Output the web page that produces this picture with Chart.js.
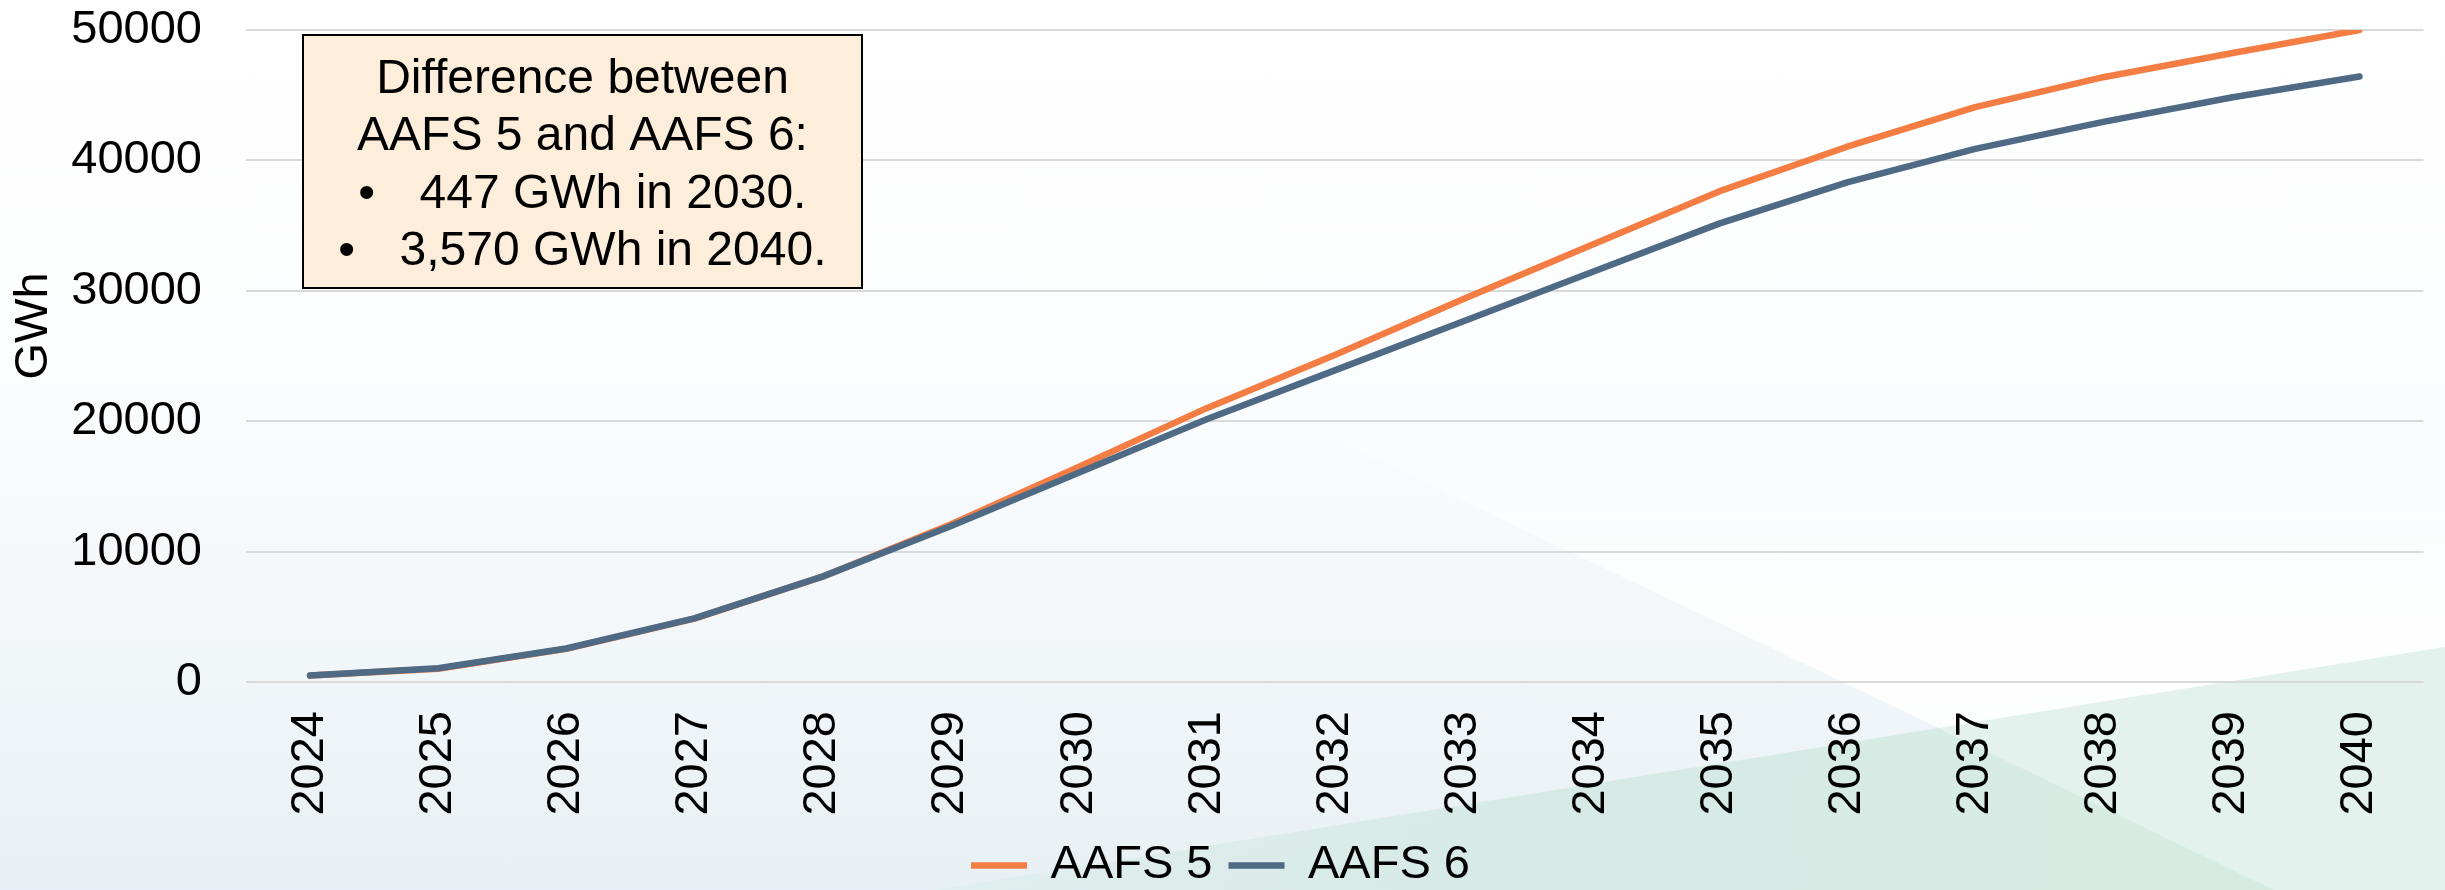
<!DOCTYPE html>
<html><head><meta charset="utf-8">
<script src="https://cdn.jsdelivr.net/npm/chart.js@4.4.0/dist/chart.umd.min.js"></script>
<style>
html,body{margin:0;padding:0;width:2445px;height:890px;overflow:hidden;background:#fff;}
#bg{position:absolute;left:0;top:0;}
#wrap{position:absolute;left:0;top:0;width:2445px;height:890px;overflow:hidden;}
canvas{display:block;}
</style></head><body>
<svg id="bg" width="2445" height="890" xmlns="http://www.w3.org/2000/svg">
 <defs>
  <linearGradient id="base" x1="0" y1="0" x2="0" y2="1">
   <stop offset="0" stop-color="#ffffff"/>
   <stop offset="0.4" stop-color="#fcfdfe"/>
   <stop offset="0.75" stop-color="#f1f6f9"/>
   <stop offset="1" stop-color="#e7f0f4"/>
  </linearGradient>
  <linearGradient id="wfade" gradientUnits="userSpaceOnUse" x1="0" y1="380" x2="0" y2="620">
   <stop offset="0" stop-color="#ffffff" stop-opacity="0"/>
   <stop offset="1" stop-color="#ffffff" stop-opacity="0.9"/>
  </linearGradient>
  <linearGradient id="g1" gradientUnits="userSpaceOnUse" x1="935" y1="0" x2="2100" y2="0">
   <stop offset="0" stop-color="#d3e9e4" stop-opacity="0.3"/>
   <stop offset="0.5" stop-color="#d3e9e4" stop-opacity="0.9"/>
   <stop offset="1" stop-color="#d6ece3" stop-opacity="1"/>
  </linearGradient>
 </defs>
 <rect width="2445" height="890" fill="url(#base)"/>
 <polygon points="1210,380 2445,380 2445,647 1939,728" fill="url(#wfade)"/>
 <polygon points="935,890 1939,728 2274,890" fill="url(#g1)"/>
 <polygon points="1939,728 2445,647 2445,890 2274,890" fill="#e3f2ec"/>
</svg>
<div id="wrap"><canvas id="c" width="2445" height="899"></canvas></div>
<script>
const years = ['2024','2025','2026','2027','2028','2029','2030','2031','2032','2033','2034','2035','2036','2037','2038','2039','2040'];
const aafs5 = [490, 1020, 2540, 4860, 8080, 12080, 16500, 21000, 25070, 29350, 33500, 37620, 41050, 44080, 46380, 48220, 50000];
const aafs6 = [490, 1050, 2570, 4880, 8080, 11950, 16053, 20150, 23900, 27650, 31400, 35150, 38320, 40880, 42950, 44820, 46430];
const yTicks = [0, 10000, 20000, 30000, 40000, 50000];
const seriesNames = ['AAFS 5', 'AAFS 6'];
const axisTitle = 'GWh';
const noteLines = ['Difference between', 'AAFS 5 and AAFS 6:', '447 GWh in 2030.', '3,570 GWh in 2040.'];

const FONT = '"Liberation Sans", Arial, sans-serif';
Chart.defaults.font.family = FONT;
Chart.defaults.color = '#000';

const notePlugin = {
  id: 'note',
  afterDatasetsDraw(chart) {
    const ctx = chart.ctx;
    ctx.save();
    const L = 303, T = 35, R = 862, B = 288;
    ctx.fillStyle = '#FDEEDC';
    ctx.fillRect(L, T, R - L, B - T);
    ctx.lineWidth = 2;
    ctx.strokeStyle = '#000';
    ctx.strokeRect(L, T, R - L, B - T);
    ctx.font = '48px ' + FONT;
    ctx.fillStyle = '#000';
    ctx.textBaseline = 'alphabetic';
    const cx = (L + R) / 2;
    const base = [93, 150, 208, 265];
    ctx.textAlign = 'center';
    ctx.fillText(noteLines[0], cx, base[0]);
    ctx.fillText(noteLines[1], cx, base[1]);
    for (let i = 2; i < 4; i++) {
      const w = ctx.measureText(noteLines[i]).width;
      const left = cx - (61 + w) / 2;
      ctx.textAlign = 'center';
      ctx.fillText('\u2022', left + 8, base[i]);
      ctx.textAlign = 'left';
      ctx.fillText(noteLines[i], left + 61, base[i]);
    }
    // y-axis title
    ctx.translate(34, 326);
    ctx.rotate(-Math.PI / 2);
    ctx.font = '47px ' + FONT;
    ctx.textAlign = 'center';
    ctx.textBaseline = 'middle';
    ctx.fillText(axisTitle, 0, 0);
    ctx.restore();
  }
};

new Chart(document.getElementById('c'), {
  type: 'line',
  data: {
    labels: years,
    datasets: [
      { label: seriesNames[0], data: aafs5, borderColor: '#F47D43', backgroundColor: '#F47D43', borderWidth: 6.5, pointRadius: 0, tension: 0, borderCapStyle: 'round', borderJoinStyle: 'round', order: 1 },
      { label: seriesNames[1], data: aafs6, borderColor: '#4F6A84', backgroundColor: '#4F6A84', borderWidth: 6.5, pointRadius: 0, tension: 0, borderCapStyle: 'round', borderJoinStyle: 'round', order: 0 }
    ]
  },
  options: {
    responsive: false,
    animation: false,
    devicePixelRatio: 1,
    layout: { padding: { left: 0, right: 4, top: 30, bottom: 0 } },
    plugins: {
      legend: {
        position: 'bottom',
        labels: {
          usePointStyle: true, pointStyle: 'line', pointStyleWidth: 56,
          font: { size: 47 }, color: '#000', padding: 16,
          sort: (a, b) => a.datasetIndex - b.datasetIndex
        }
      },
      tooltip: { enabled: false }
    },
    scales: {
      x: {
        offset: true,
        grid: { display: false, drawTicks: false },
        border: { display: false },
        ticks: { font: { size: 47 }, color: '#000', minRotation: 90, maxRotation: 90, padding: 29, autoSkip: false },
        afterFit(s) { s.height = 144; }
      },
      y: {
        min: 0, max: 50000,
        afterBuildTicks(s) { s.ticks = yTicks.map(v => ({ value: v })); },
        grid: { color: '#D9D9D9', lineWidth: 2, drawTicks: false },
        border: { display: false },
        ticks: { font: { size: 47 }, color: '#000', padding: 44, callback: v => String(v) },
        title: { display: false },
        afterFit(s) { s.width = 246; s.paddingTop = 0; s.paddingBottom = 0; }
      }
    }
  },
  plugins: [notePlugin]
});
</script>
</body></html>
